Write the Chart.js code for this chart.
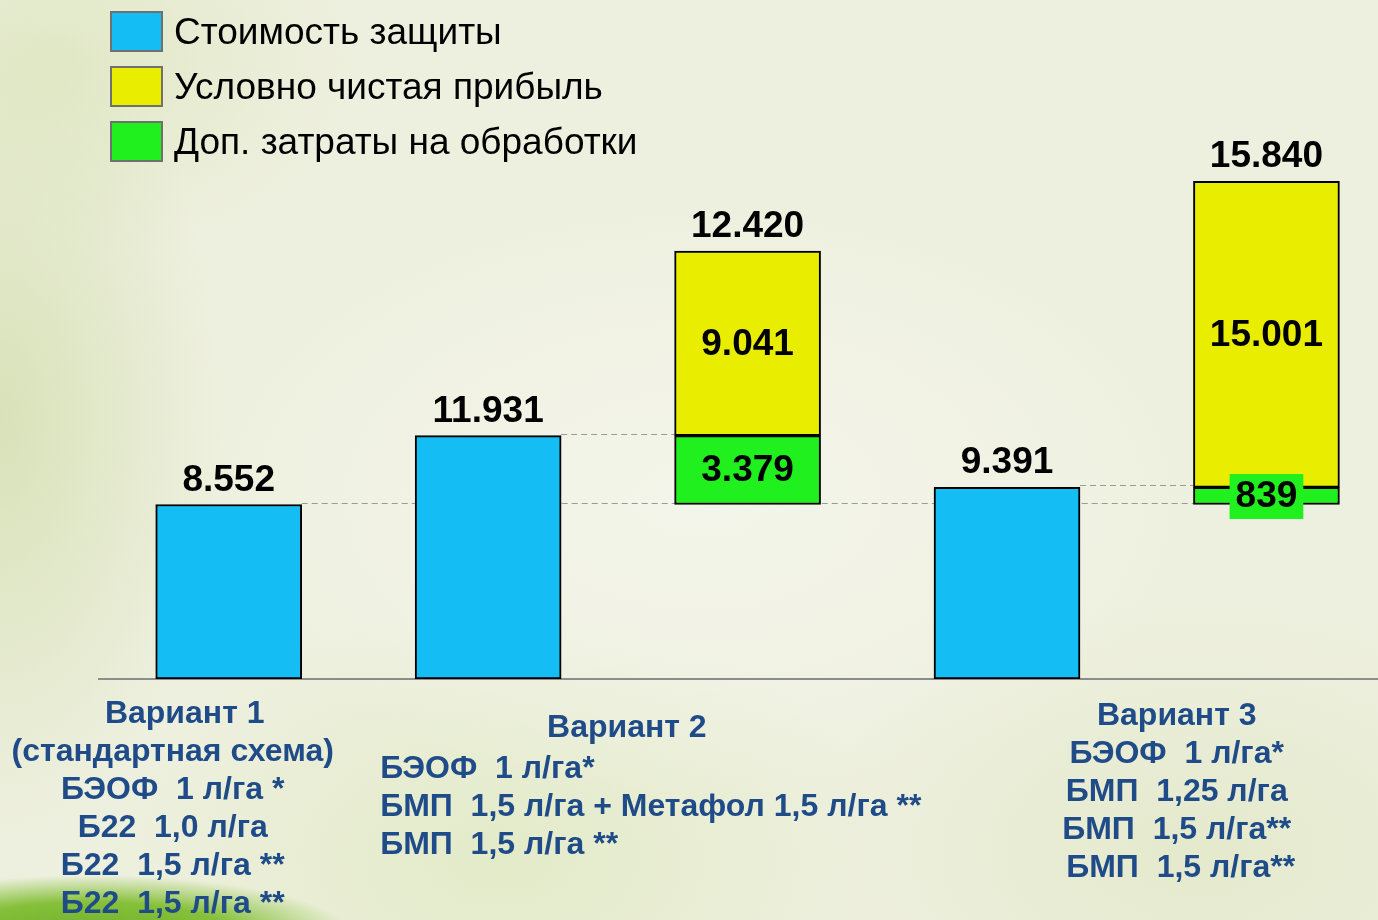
<!DOCTYPE html>
<html><head><meta charset="utf-8">
<script src="https://cdn.jsdelivr.net/npm/chart.js@4/dist/chart.umd.min.js"></script>
<style>
html,body{margin:0;padding:0;width:1378px;height:920px;overflow:hidden;}
body{
  background:
    radial-gradient(ellipse 260px 60px at 90px 935px, #6fae2a 0%, #86c03a 55%, rgba(134,192,58,0) 100%),
    radial-gradient(ellipse 220px 420px at 0px 420px, rgba(214,224,180,0.9) 0%, rgba(214,224,180,0) 100%),
    radial-gradient(ellipse 300px 200px at 60px 60px, rgba(222,230,192,0.8) 0%, rgba(222,230,192,0) 100%),
    radial-gradient(ellipse 500px 300px at 700px 500px, rgba(245,246,236,0.9) 0%, rgba(245,246,236,0) 100%),
    radial-gradient(ellipse 400px 250px at 1200px 850px, rgba(226,232,200,0.8) 0%, rgba(226,232,200,0) 100%),
    radial-gradient(ellipse 400px 250px at 500px 860px, rgba(226,234,198,0.9) 0%, rgba(226,234,198,0) 100%),
    #eef0df;
}
#wrap{position:relative;width:1378px;height:920px;}
</style></head>
<body><div id="wrap"><canvas id="c" width="1378" height="920"></canvas></div>
<script>
// ---- data ----
const seriesNames = ['Стоимость защиты', 'Условно чистая прибыль', 'Доп. затраты на обработки'];
const seriesColors = ['#14bdf3', '#e9ee00', '#20f01e'];
const protectionCost = [8552, 11931, 9391];   // Вариант 1, 2, 3
const extraCost = [3379, 839];                // Вариант 2, 3 (доп. затраты относительно варианта 1)
const netProfit = [9041, 15001];              // Вариант 2, 3
const totals = [12420, 15840];                // Вариант 2, 3
const blueSlots = [0, 1, 3];
const stackSlots = [2, 4];
const variantDetails = [
  ['Вариант 1', '(стандартная схема)', 'БЭОФ  1 л/га *', 'Б22  1,0 л/га', 'Б22  1,5 л/га **', 'Б22  1,5 л/га **'],
  ['Вариант 2', 'БЭОФ  1 л/га*', 'БМП  1,5 л/га + Метафол 1,5 л/га **', 'БМП  1,5 л/га **'],
  ['Вариант 3', 'БЭОФ  1 л/га*', 'БМП  1,25 л/га', 'БМП  1,5 л/га**', 'БМП  1,5 л/га**']
];

const fmt = v => String(v).replace(/\B(?=(\d{3})+(?!\d))/g, '.');
const base = protectionCost[0];

const blueData = protectionCost.map((v, i) => ({x: blueSlots[i], y: v}));
const greenData = extraCost.map((v, i) => ({x: stackSlots[i], y: [base, base + v]}));
const yellowData = netProfit.map((v, i) => ({x: stackSlots[i], y: [base + extraCost[i], base + extraCost[i] + v]}));

const LABEL_FONT = 'bold 37px "Liberation Sans", Arial, sans-serif';
const AXIS_FONT = 'bold 32px "Liberation Sans", Arial, sans-serif';
const AXIS_COLOR = '#1f4c88';

const connectorPlugin = {
  id: 'connectors',
  beforeDatasetsDraw(chart) {
    const ctx = chart.ctx, y = chart.scales.y;
    const blue = chart.getDatasetMeta(0).data;
    const stk = chart.getDatasetMeta(2).data;
    const right = el => el.x + el.width / 2, left = el => el.x - el.width / 2;
    const lines = [
      [base, right(blue[0]), left(stk[1])],
      [protectionCost[1], right(blue[1]), left(stk[0])],
      [protectionCost[2], right(blue[2]), left(stk[1])]
    ];
    ctx.save();
    ctx.strokeStyle = '#9a9a9a'; ctx.lineWidth = 1.2; ctx.setLineDash([6, 4]);
    lines.forEach(([v, x0, x1]) => {
      const py = Math.round(y.getPixelForValue(v)) - 1.5;
      ctx.beginPath(); ctx.moveTo(x0, py); ctx.lineTo(x1, py); ctx.stroke();
    });
    ctx.restore();
  }
};

const labelsPlugin = {
  id: 'valueLabels',
  afterDatasetsDraw(chart) {
    const ctx = chart.ctx;
    ctx.save();
    ctx.font = LABEL_FONT; ctx.fillStyle = '#000'; ctx.textAlign = 'center';
    chart.getDatasetMeta(0).data.forEach((el, i) => {
      ctx.textBaseline = 'alphabetic';
      ctx.fillText(fmt(protectionCost[i]), el.x, el.y - 14);
    });
    chart.getDatasetMeta(1).data.forEach((el, i) => {
      ctx.textBaseline = 'middle';
      ctx.fillText(fmt(netProfit[i]), el.x, (el.y + el.base) / 2 + 1);
      ctx.textBaseline = 'alphabetic';
      ctx.fillText(fmt(totals[i]), el.x, el.y - 14);
    });
    chart.getDatasetMeta(2).data.forEach((el, i) => {
      const cy = (el.y + el.base) / 2;
      const txt = fmt(extraCost[i]);
      const h = Math.abs(el.base - el.y);
      if (h < 40) {
        const w = ctx.measureText(txt).width + 12;
        ctx.fillStyle = seriesColors[2];
        ctx.fillRect(el.x - w / 2, cy - 22, w, 45);
        ctx.fillStyle = '#000';
      }
      ctx.textBaseline = 'middle';
      ctx.fillText(txt, el.x, cy + 1);
    });
    ctx.restore();
  }
};

const legendPlugin = {
  id: 'customLegend',
  afterDraw(chart) {
    const ctx = chart.ctx;
    ctx.save();
    chart.data.datasets.forEach((ds, k) => {
      const top = 12 + k * 55;
      ctx.fillStyle = ds.backgroundColor;
      ctx.fillRect(111, top, 51, 39);
      ctx.strokeStyle = '#707070'; ctx.lineWidth = 2;
      ctx.strokeRect(111, top, 51, 39);
      ctx.fillStyle = '#000';
      ctx.font = '37px "Liberation Sans", Arial, sans-serif';
      ctx.textAlign = 'left'; ctx.textBaseline = 'middle';
      ctx.fillText(ds.label, 174, top + 22);
    });
    ctx.restore();
  }
};

const axisLabelPlugin = {
  id: 'variantLabels',
  afterDraw(chart) {
    const ctx = chart.ctx, bottom = chart.chartArea.bottom;
    const blue = chart.getDatasetMeta(0).data;
    const stk = chart.getDatasetMeta(2).data;
    const LH = 38;
    ctx.save();
    ctx.font = AXIS_FONT; ctx.fillStyle = AXIS_COLOR; ctx.textBaseline = 'middle';
    ctx.textAlign = 'center';
    variantDetails[0].forEach((t, i) => ctx.fillText(t, blue[0].x - 56 + (i === 0 ? 12 : 0), bottom + 35 + i * LH));
    const mid2 = (blue[1].x + stk[0].x) / 2 + 9;
    ctx.fillText(variantDetails[1][0], mid2, bottom + 49);
    ctx.textAlign = 'left';
    variantDetails[1].slice(1).forEach((t, i) => ctx.fillText(t, blue[1].x - 108, bottom + 90 + i * LH));
    ctx.textAlign = 'center';
    const mid3 = (blue[2].x + stk[1].x) / 2 + 40;
    variantDetails[2].forEach((t, i) => ctx.fillText(t, mid3 + (i === 4 ? 4 : 0), bottom + 37 + i * LH));
    ctx.restore();
  }
};

const common = {borderColor: '#000', borderWidth: 2, borderSkipped: false, grouped: false, barThickness: 146};

new Chart(document.getElementById('c'), {
  type: 'bar',
  data: {
    datasets: [
      Object.assign({label: seriesNames[0], data: blueData, backgroundColor: seriesColors[0], order: 3}, common),
      Object.assign({label: seriesNames[1], data: yellowData, backgroundColor: seriesColors[1], order: 2}, common),
      Object.assign({label: seriesNames[2], data: greenData, backgroundColor: seriesColors[2], order: 1}, common)
    ]
  },
  options: {
    responsive: false,
    animation: false,
    layout: {padding: {left: 99, right: 0, top: 67, bottom: 241}},
    plugins: {legend: {display: false}, tooltip: {enabled: false}},
    scales: {
      x: {type: 'linear', offset: false, min: -0.5, max: 4.43,
          grid: {display: false, drawTicks: false, offset: false}, ticks: {display: false},
          border: {display: true, color: '#8c8c8c', width: 2}},
      y: {display: false, min: 0, max: 30000}
    }
  },
  plugins: [connectorPlugin, labelsPlugin, legendPlugin, axisLabelPlugin]
});
</script>
</body></html>
